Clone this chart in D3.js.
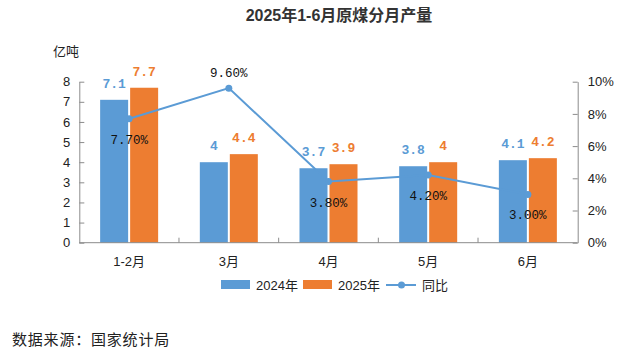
<!DOCTYPE html>
<html>
<head>
<meta charset="utf-8">
<script src="https://cdn.jsdelivr.net/npm/d3@7"></script>
<style>
  body { margin: 0; background: #fff; }
  svg text { font-family: "Liberation Sans", "Noto Sans CJK SC", sans-serif; }
  svg text.mono { font-family: "Liberation Mono", monospace; }
</style>
</head>
<body>
<div id="chart"></div>
<script>
const categories = ["1-2月", "3月", "4月", "5月", "6月"];
const values2024 = [7.1, 4, 3.7, 3.8, 4.1];
const values2025 = [7.7, 4.4, 3.9, 4, 4.2];
const yoy = [7.7, 9.6, 3.8, 4.2, 3.0];
const yoyLabels = ["7.70%", "9.60%", "3.80%", "4.20%", "3.00%"];
const leftTicks = [0, 1, 2, 3, 4, 5, 6, 7, 8];
const rightTicks = [0, 2, 4, 6, 8, 10];

const width = 617, height = 351;
const plot = {left: 79.3, right: 577.7, top: 81.7, bottom: 242.7};
const blue = "#5B9BD5", orange = "#ED7D31", axisColor = "#8c8c8c";

const svg = d3.select("#chart").append("svg")
  .attr("width", width)
  .attr("height", height);

// Scales
const x = d3.scaleBand().domain(categories).range([plot.left, plot.right]);
const x1 = d3.scaleBand().domain(["2024", "2025"]).range([-29, 29]).paddingInner(0.0667);
const y = d3.scaleLinear().domain([0, 8]).range([plot.bottom, plot.top]);
const yR = d3.scaleLinear().domain([0, 10]).range([plot.bottom, plot.top]);

// Title
svg.append("text")
  .attr("x", 339).attr("y", 21)
  .attr("text-anchor", "middle")
  .attr("font-size", 16).attr("font-weight", "bold")
  .attr("fill", "#333")
  .text("2025年1-6月原煤分月产量");

// Unit label
svg.append("text")
  .attr("x", 53).attr("y", 56)
  .attr("font-size", 13).attr("fill", "#222")
  .text("亿吨");

// Bars
const groups = svg.append("g").selectAll("g")
  .data(categories)
  .join("g")
  .attr("transform", d => `translate(${x(d) + x.bandwidth() / 2},0)`);

groups.append("rect")
  .attr("x", x1("2024"))
  .attr("width", x1.bandwidth())
  .attr("y", (d, i) => y(values2024[i]))
  .attr("height", (d, i) => y(0) - y(values2024[i]))
  .attr("fill", blue);

groups.append("rect")
  .attr("x", x1("2025"))
  .attr("width", x1.bandwidth())
  .attr("y", (d, i) => y(values2025[i]))
  .attr("height", (d, i) => y(0) - y(values2025[i]))
  .attr("fill", orange);

// Bar value labels
groups.append("text")
  .attr("class", "mono")
  .attr("x", x1("2024") + x1.bandwidth() / 2)
  .attr("y", (d, i) => y(values2024[i]) - 12)
  .attr("text-anchor", "middle")
  .attr("font-size", 13).attr("font-weight", "bold")
  .attr("fill", blue)
  .text((d, i) => values2024[i]);

groups.append("text")
  .attr("class", "mono")
  .attr("x", x1("2025") + x1.bandwidth() / 2)
  .attr("y", (d, i) => y(values2025[i]) - 12)
  .attr("text-anchor", "middle")
  .attr("font-size", 13).attr("font-weight", "bold")
  .attr("fill", orange)
  .text((d, i) => values2025[i]);

// Axes
const leftAxis = svg.append("g")
  .attr("transform", `translate(${plot.left},0)`)
  .call(d3.axisLeft(y).tickValues(leftTicks).tickSizeInner(-5).tickSizeOuter(0).tickPadding(9));

const rightAxis = svg.append("g")
  .attr("transform", `translate(${plot.right},0)`)
  .call(d3.axisRight(yR).tickValues(rightTicks).tickFormat(d => d + "%")
    .tickSizeInner(-5).tickSizeOuter(0).tickPadding(10));

[leftAxis, rightAxis].forEach(g => {
  g.selectAll("line, path").attr("stroke", axisColor);
  g.selectAll("text").attr("font-size", 13).attr("fill", "#222");
});

// Bottom axis line, boundary ticks and category labels
svg.append("line")
  .attr("x1", plot.left).attr("x2", plot.right)
  .attr("y1", y(0)).attr("y2", y(0))
  .attr("stroke", axisColor);

svg.append("g").selectAll("line")
  .data(categories.slice(1))
  .join("line")
  .attr("x1", d => x(d)).attr("x2", d => x(d))
  .attr("y1", y(0)).attr("y2", y(0) - 5)
  .attr("stroke", axisColor);

svg.append("g").selectAll("text")
  .data(categories)
  .join("text")
  .attr("x", d => x(d) + x.bandwidth() / 2)
  .attr("y", 266)
  .attr("text-anchor", "middle")
  .attr("font-size", 13).attr("fill", "#222")
  .text(d => d);

// YoY line
const line = d3.line()
  .x((d, i) => x(categories[i]) + x.bandwidth() / 2)
  .y(d => yR(d));

svg.append("path")
  .datum(yoy)
  .attr("fill", "none")
  .attr("stroke", blue)
  .attr("stroke-width", 2)
  .attr("d", line);

svg.append("g").selectAll("circle")
  .data(yoy)
  .join("circle")
  .attr("cx", (d, i) => x(categories[i]) + x.bandwidth() / 2)
  .attr("cy", d => yR(d))
  .attr("r", 3.5)
  .attr("fill", blue);

svg.append("g").selectAll("text")
  .data(yoy)
  .join("text")
  .attr("class", "mono")
  .attr("x", (d, i) => x(categories[i]) + x.bandwidth() / 2)
  .attr("y", (d, i) => i === 1 ? yR(d) - 11 : yR(d) + 25)
  .attr("text-anchor", "middle")
  .attr("font-size", 12.5).attr("fill", "#111")
  .text((d, i) => yoyLabels[i]);

// Legend
const legend = svg.append("g");
legend.append("rect").attr("x", 221).attr("y", 280).attr("width", 29).attr("height", 9).attr("fill", blue);
legend.append("text").attr("x", 256).attr("y", 290).attr("font-size", 13).attr("fill", "#222").text("2024年");
legend.append("rect").attr("x", 303).attr("y", 280).attr("width", 29).attr("height", 9).attr("fill", orange);
legend.append("text").attr("x", 338).attr("y", 290).attr("font-size", 13).attr("fill", "#222").text("2025年");
legend.append("line").attr("x1", 386).attr("x2", 416).attr("y1", 285).attr("y2", 285)
  .attr("stroke", blue).attr("stroke-width", 2);
legend.append("circle").attr("cx", 401.5).attr("cy", 285).attr("r", 3.5).attr("fill", blue);
legend.append("text").attr("x", 422).attr("y", 290).attr("font-size", 13).attr("fill", "#222").text("同比");

// Source
svg.append("text")
  .attr("x", 12).attr("y", 345)
  .attr("font-size", 15).attr("letter-spacing", 0.8).attr("fill", "#222")
  .text("数据来源：国家统计局");
</script>
</body>
</html>
